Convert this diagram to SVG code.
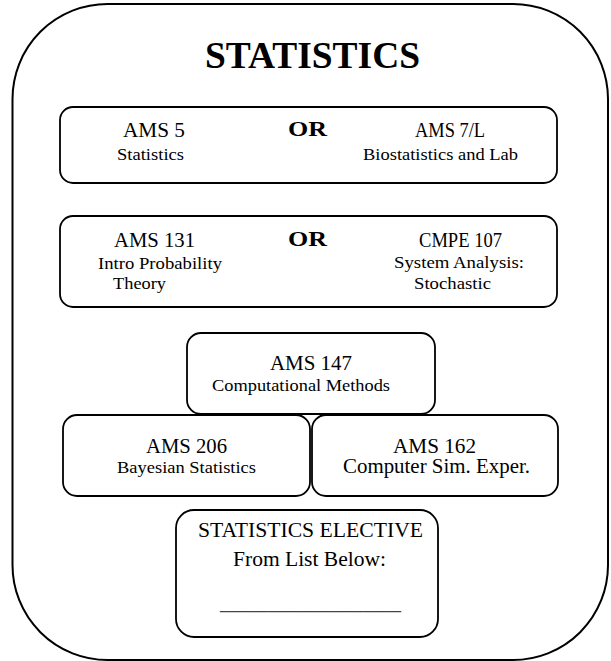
<svg xmlns="http://www.w3.org/2000/svg" width="611" height="661" viewBox="0 0 611 661">
<style>
.bx{fill:#fff;stroke:#000;stroke-width:1.8}
.c{font-size:20px}
.s{font-size:17px}
.or{font-size:21px;font-weight:bold}
.ttl{font-size:38px;font-weight:bold}
</style>
<rect width="611" height="661" fill="#fff"/>
<g font-family="Liberation Serif, DejaVu Serif, serif" fill="#000">
<g id="outer">
<rect x="12.5" y="4" width="595.5" height="656" rx="95" ry="95" fill="#fff" stroke="#000" stroke-width="2"/>
<text class="ttl" x="205" y="68" textLength="215" lengthAdjust="spacingAndGlyphs">STATISTICS</text>
</g>
<g id="connectors"></g>
<g id="row1">
<rect class="bx" x="60" y="107" width="497" height="76" rx="13"/>
<text class="c" x="123" y="137" textLength="62" lengthAdjust="spacingAndGlyphs">AMS 5</text>
<text class="s" x="117" y="160" textLength="67" lengthAdjust="spacingAndGlyphs">Statistics</text>
<text class="or" x="288" y="136" textLength="39" lengthAdjust="spacingAndGlyphs">OR</text>
<text class="c" x="415" y="137" textLength="70" lengthAdjust="spacingAndGlyphs">AMS 7/L</text>
<text class="s" x="363" y="160" textLength="155" lengthAdjust="spacingAndGlyphs">Biostatistics and Lab</text>
</g>
<g id="row2">
<rect class="bx" x="60" y="216" width="497" height="91" rx="13"/>
<text class="c" x="114" y="247" textLength="81" lengthAdjust="spacingAndGlyphs">AMS 131</text>
<text class="s" x="98" y="269" textLength="124" lengthAdjust="spacingAndGlyphs">Intro Probability</text>
<text class="s" x="113" y="289" textLength="53" lengthAdjust="spacingAndGlyphs">Theory</text>
<text class="or" x="288" y="246" textLength="39" lengthAdjust="spacingAndGlyphs">OR</text>
<text class="c" x="419" y="247" textLength="83" lengthAdjust="spacingAndGlyphs">CMPE 107</text>
<text class="s" x="394" y="268" textLength="130" lengthAdjust="spacingAndGlyphs">System Analysis:</text>
<text class="s" x="414" y="289" textLength="77" lengthAdjust="spacingAndGlyphs">Stochastic</text>
</g>
<g id="ams147">
<rect class="bx" x="187" y="333" width="248" height="81" rx="14"/>
<text class="c" x="270" y="370" textLength="82" lengthAdjust="spacingAndGlyphs">AMS 147</text>
<text class="s" x="212" y="391" textLength="178" lengthAdjust="spacingAndGlyphs">Computational Methods</text>
</g>
<g id="ams206">
<rect class="bx" x="63" y="415" width="247" height="81" rx="14"/>
<text class="c" x="146" y="453" textLength="81" lengthAdjust="spacingAndGlyphs">AMS 206</text>
<text class="s" x="117" y="473" textLength="139" lengthAdjust="spacingAndGlyphs">Bayesian Statistics</text>
</g>
<g id="ams162">
<rect class="bx" x="312" y="415" width="246" height="81" rx="14"/>
<text class="c" x="393" y="453" textLength="83" lengthAdjust="spacingAndGlyphs">AMS 162</text>
<text class="c" x="343" y="473" textLength="187" lengthAdjust="spacingAndGlyphs">Computer Sim. Exper.</text>
</g>
<g id="elective">
<rect class="bx" x="176" y="510" width="262" height="127" rx="18"/>
<text class="c" x="198" y="537" textLength="225" lengthAdjust="spacingAndGlyphs">STATISTICS ELECTIVE</text>
<text class="c" x="233" y="566" textLength="153" lengthAdjust="spacingAndGlyphs">From List Below:</text>
<text class="c" x="220" y="609" textLength="181" lengthAdjust="spacingAndGlyphs" fill="#444">___________________</text>
</g>
</g>
</svg>
